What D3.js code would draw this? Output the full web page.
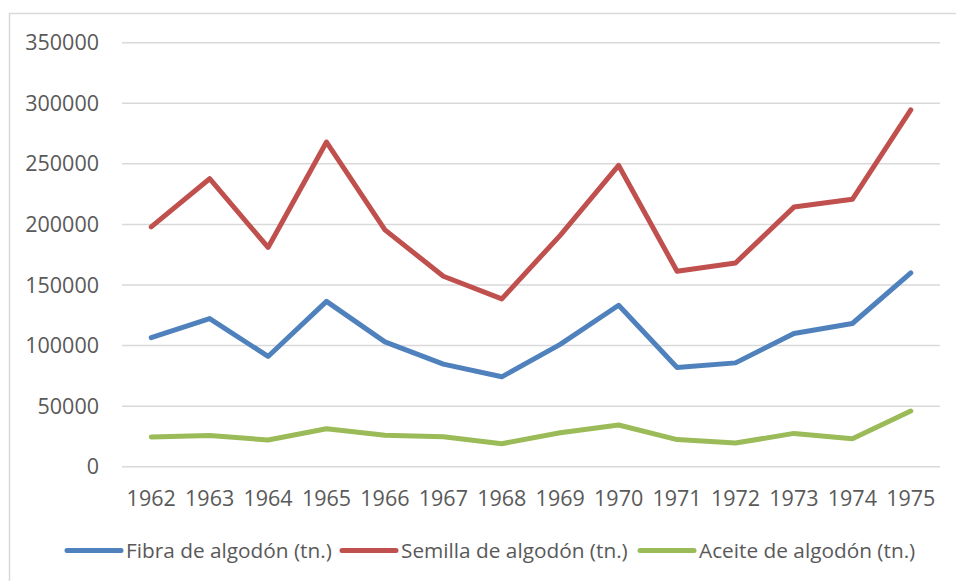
<!DOCTYPE html>
<html>
<head>
<meta charset="UTF-8">
<script src="https://cdn.jsdelivr.net/npm/d3@7"></script>
<style>
    body { margin: 0; background: #fff; }
    svg text { font-family: 'Open Sans', sans-serif; fill: #595959; }
</style>
</head>
<body>
<div id="chart"></div>
<script>
// data
const years = ["1962","1963","1964","1965","1966","1967","1968","1969","1970","1971","1972","1973","1974","1975"];
const fibra = [106500,122300,91000,136500,103000,84700,74200,101000,133300,81900,85700,110000,118200,160000];
const semilla = [198000,237700,181000,268000,195500,157200,138500,191000,248700,161300,168200,214300,220700,294600];
const aceite = [24500,25800,22000,31300,26000,24700,19000,28000,34400,22400,19500,27500,23100,45900];
const yTicks = [0,50000,100000,150000,200000,250000,300000,350000];

const seriesList = [
    {name: "Fibra de algodón (tn.)", values: fibra, color: "#4f81bd"},
    {name: "Semilla de algodón (tn.)", values: semilla, color: "#c0504d"},
    {name: "Aceite de algodón (tn.)", values: aceite, color: "#9bbb59"}
];

const width = 956, height = 581;
const margin = {left: 122, right: 16, top: 42.7, bottom: 114.3};
const fontSize = "21.5px";

const svg = d3.select("#chart").append("svg")
    .attr("width", width)
    .attr("height", height);

// outer frame
svg.append("rect")
    .attr("x", 9.5).attr("y", 13.5)
    .attr("width", 980).attr("height", 620)
    .attr("fill", "none")
    .attr("stroke", "#d9d9d9")
    .attr("stroke-width", 1.5);

const x = d3.scalePoint()
    .domain(years)
    .range([margin.left, width - margin.right])
    .padding(0.5);

const y = d3.scaleLinear()
    .domain([0, 350000])
    .range([height - margin.bottom, margin.top]);

// gridlines
svg.append("g")
    .selectAll("line")
    .data(yTicks)
    .enter()
    .append("line")
    .attr("x1", margin.left)
    .attr("x2", width - margin.right)
    .attr("y1", d => y(d))
    .attr("y2", d => y(d))
    .attr("stroke", "#d9d9d9")
    .attr("stroke-width", 1.5);

// y labels
svg.append("g")
    .selectAll("text")
    .data(yTicks)
    .enter()
    .append("text")
    .attr("x", 99)
    .attr("y", d => y(d))
    .attr("dy", "0.35em")
    .attr("text-anchor", "end")
    .style("font-size", fontSize)
    .text(d => d);

// x labels
svg.append("g")
    .selectAll("text")
    .data(years)
    .enter()
    .append("text")
    .attr("x", d => x(d))
    .attr("y", 498.5)
    .attr("dy", "0.35em")
    .attr("text-anchor", "middle")
    .style("font-size", fontSize)
    .text(d => d);

// lines
const line = d3.line()
    .x((d, i) => x(years[i]))
    .y(d => y(d));

svg.append("g")
    .selectAll("path")
    .data(seriesList)
    .enter()
    .append("path")
    .attr("d", d => line(d.values))
    .attr("fill", "none")
    .attr("stroke", d => d.color)
    .attr("stroke-width", 5)
    .attr("stroke-linejoin", "round")
    .attr("stroke-linecap", "round");

// legend
const legendX = [67, 342, 640];
const legend = svg.append("g")
    .selectAll("g")
    .data(seriesList)
    .enter()
    .append("g")
    .attr("transform", (d, i) => `translate(${legendX[i]},550.5)`);
legend.append("line")
    .attr("x1", 0).attr("x2", 54)
    .attr("stroke", d => d.color)
    .attr("stroke-width", 5)
    .attr("stroke-linecap", "round");
legend.append("text")
    .attr("x", 59)
    .attr("dy", "0.35em")
    .style("font-size", "20.8px")
    .text(d => d.name);
</script>
</body>
</html>
